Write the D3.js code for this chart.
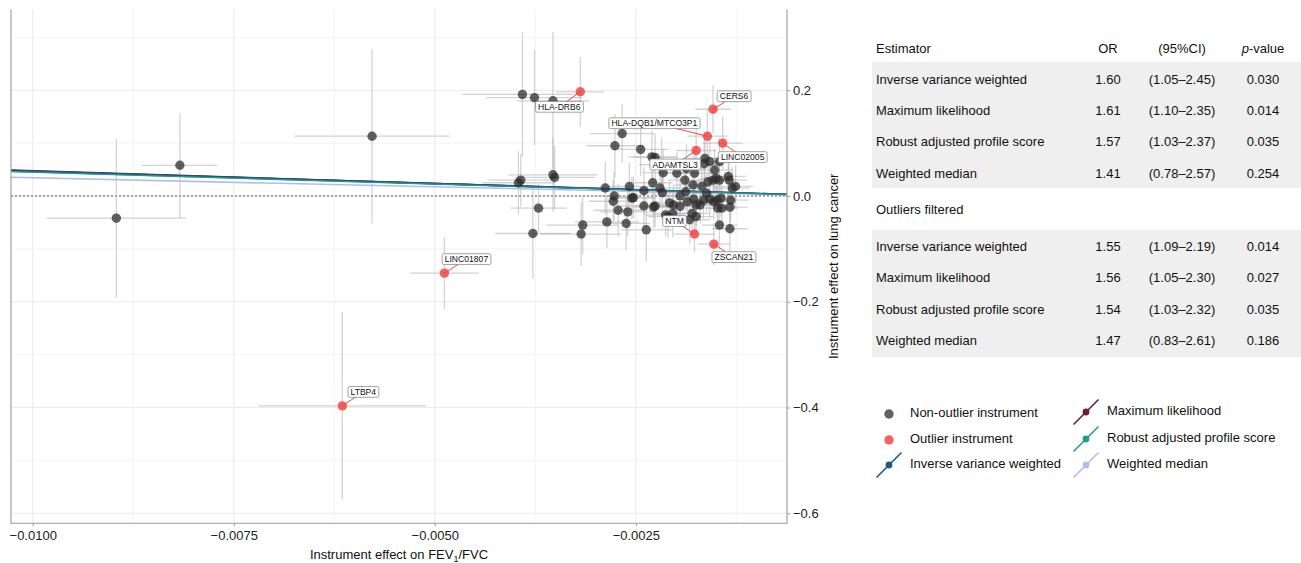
<!DOCTYPE html>
<html>
<head>
<meta charset="utf-8">
<script src="https://cdnjs.cloudflare.com/ajax/libs/d3/7.8.5/d3.min.js"></script>
<style>
  body { margin: 0; background: #fff; }
  svg { font-family: "Liberation Sans", Arial, Helvetica, sans-serif; }
</style>
</head>
<body>
<script>
// non-outlier instruments: effect on FEV1/FVC, effect on lung cancer, and their SEs
const bx = [-0.00896, -0.00817, -0.00578, -0.00391, -0.00376, -0.00353, -0.00396, -0.00393, -0.00353, -0.00351,
            -0.00371, -0.00378, -0.00318, -0.00316, -0.00286, -0.00288, -0.00277, -0.00276, -0.00267, -0.00272,
            -0.00260, -0.00278, -0.00244, -0.00258, -0.00253, -0.00240, -0.00237, -0.00230, -0.00226, -0.00229,
            -0.00226, -0.00228, -0.00218, -0.00216, -0.00213, -0.00217, -0.00208, -0.00204, -0.00199, -0.00195,
            -0.00195, -0.00189, -0.00187, -0.00188, -0.00186, -0.00183, -0.00180, -0.00179, -0.00177, -0.00178,
            -0.00175, -0.00168, -0.00165, -0.00164, -0.00166, -0.00162, -0.00160, -0.00158, -0.00154, -0.00152,
            -0.00153, -0.00150, -0.00149, -0.00148, -0.00146, -0.00146, -0.00146, -0.00144, -0.00143, -0.00135,
            -0.00134, -0.00132, -0.00133, -0.00130, -0.00133, -0.00170, -0.00262, -0.00255, -0.00210, -0.00203,
            -0.00175, -0.00158, -0.00126, -0.00220, -0.00240];
const by = [-0.042, 0.058, 0.113, 0.192, 0.186, 0.180, 0.025, 0.030, 0.040, 0.035,
            -0.023, -0.071, -0.072, -0.055, -0.049, 0.015, 0.000, 0.095, 0.118, -0.027,
            -0.030, -0.010, 0.088, 0.018, -0.003, -0.019, -0.064, 0.074, 0.073, 0.025,
            -0.019, -0.021, 0.059, 0.044, -0.036, 0.006, -0.013, -0.033, 0.043, 0.000,
            -0.020, 0.030, 0.052, 0.008, -0.011, -0.045, -0.033, 0.021, 0.043, -0.006,
            -0.017, 0.018, 0.061, 0.071, -0.008, 0.005, 0.027, -0.006, 0.030, 0.049,
            -0.011, 0.033, -0.008, -0.023, 0.065, -0.055, 0.030, -0.004, -0.023, 0.037,
            0.030, -0.008, -0.021, 0.015, -0.062, -0.017, -0.052, -0.004, -0.039, -0.017,
            -0.039, 0.065, 0.018, 0.015, 0.010];
const sx = [0.00087, 0.00047, 0.00097, 0.00075, 0.00060, 0.00045, 0.00045, 0.00040, 0.00055, 0.00050,
            0.00035, 0.00047, 0.00050, 0.00045, 0.00040, 0.00035, 0.00030, 0.00035, 0.00040, 0.00030,
            0.00035, 0.00030, 0.00035, 0.00030, 0.00028, 0.00030, 0.00032, 0.00030, 0.00028, 0.00025,
            0.00025, 0.00025, 0.00028, 0.00025, 0.00025, 0.00025, 0.00025, 0.00025, 0.00022, 0.00022,
            0.00022, 0.00022, 0.00025, 0.00022, 0.00022, 0.00025, 0.00022, 0.00022, 0.00022, 0.00020,
            0.00022, 0.00020, 0.00022, 0.00025, 0.00020, 0.00020, 0.00020, 0.00020, 0.00020, 0.00022,
            0.00020, 0.00020, 0.00020, 0.00020, 0.00022, 0.00022, 0.00020, 0.00020, 0.00020, 0.00022,
            0.00022, 0.00022, 0.00022, 0.00022, 0.00022, 0.00020, 0.00030, 0.00028, 0.00025, 0.00025,
            0.00022, 0.00022, 0.00022, 0.00025, 0.00030];
const sy = [0.150, 0.099, 0.165, 0.118, 0.090, 0.130, 0.060, 0.050, 0.070, 0.060,
            0.045, 0.085, 0.060, 0.055, 0.050, 0.050, 0.045, 0.060, 0.055, 0.050,
            0.045, 0.040, 0.050, 0.045, 0.040, 0.045, 0.060, 0.050, 0.045, 0.040,
            0.040, 0.040, 0.050, 0.045, 0.040, 0.040, 0.040, 0.045, 0.040, 0.035,
            0.040, 0.040, 0.045, 0.035, 0.040, 0.045, 0.040, 0.040, 0.040, 0.035,
            0.040, 0.035, 0.045, 0.050, 0.035, 0.035, 0.035, 0.035, 0.035, 0.040,
            0.035, 0.035, 0.035, 0.040, 0.045, 0.045, 0.035, 0.035, 0.040, 0.040,
            0.040, 0.040, 0.040, 0.040, 0.045, 0.035, 0.050, 0.040, 0.040, 0.040,
            0.040, 0.045, 0.040, 0.040, 0.045];

// outlier instruments
const outGene = ["HLA-DRB6", "CERS6", "HLA-DQB1/MTCO3P1", "LINC02005", "ADAMTSL3", "NTM", "ZSCAN21", "LINC01807", "LTBP4"];
const outBx = [-0.00319, -0.00154, -0.00161, -0.00142, -0.00175, -0.00177, -0.00153, -0.00488, -0.00615];
const outBy = [0.197, 0.164, 0.113, 0.100, 0.086, -0.072, -0.091, -0.146, -0.397];
const outSx = [0.00030, 0.00022, 0.00025, 0.00025, 0.00025, 0.00025, 0.00020, 0.00043, 0.00104];
const outSy = [0.066, 0.045, 0.050, 0.050, 0.050, 0.035, 0.040, 0.068, 0.177];

// MR estimators
const estimators = ["Inverse variance weighted", "Maximum likelihood", "Robust adjusted profile score", "Weighted median"];
const lineSlope = [-4.70, -4.76, -4.51, -3.44];
const orAll = ["1.60", "1.61", "1.57", "1.41"];
const ciAll = ["(1.05–2.45)", "(1.10–2.35)", "(1.03–2.37)", "(0.78–2.57)"];
const pAll = ["0.030", "0.014", "0.035", "0.254"];
const orFilt = ["1.55", "1.56", "1.54", "1.47"];
const ciFilt = ["(1.09–2.19)", "(1.05–2.30)", "(1.03–2.32)", "(0.83–2.61)"];
const pFilt = ["0.014", "0.027", "0.035", "0.186"];

const xTicks = [-0.01, -0.0075, -0.005, -0.0025];
const xMinor = [-0.00875, -0.00625, -0.00375, -0.00125];
const yTicks = [0.2, 0, -0.2, -0.4, -0.6];
const yMinor = [0.3, 0.1, -0.1, -0.3, -0.5];

const lineColor = ["#1d5888", "#6a1c3c", "#1f9e8e", "#b3bce8"];
// label nudges (px) from point to label centre
const nudge = {
  "HLA-DRB6": [-21, 15], "CERS6": [21, -13], "HLA-DQB1/MTCO3P1": [-53, -13], "LINC02005": [20, 14],
  "ADAMTSL3": [-21, 14], "NTM": [-20, -13], "ZSCAN21": [20, 13], "LINC01807": [22, -14], "LTBP4": [21, -14]
};

const W = 1301, H = 563;
const svg = d3.select("body").append("svg").attr("width", W).attr("height", H);

const x = d3.scaleLinear().domain([-0.01027, -0.00062]).range([11, 787]);
const y = d3.scaleLinear().domain([-0.619, 0.353]).range([523.3, 9.3]);
const [x0, x1] = x.range();
const [yb, yt] = y.range();

// grid
const grid = svg.append("g");
grid.selectAll(".vmin").data(xMinor).enter().append("line")
  .attr("x1", d => x(d)).attr("x2", d => x(d)).attr("y1", yt).attr("y2", yb)
  .attr("stroke", "#f3f3f3").attr("stroke-width", 1);
grid.selectAll(".hmin").data(yMinor).enter().append("line")
  .attr("y1", d => y(d)).attr("y2", d => y(d)).attr("x1", x0).attr("x2", x1)
  .attr("stroke", "#f3f3f3").attr("stroke-width", 1);
grid.selectAll(".vmaj").data(xTicks).enter().append("line")
  .attr("x1", d => x(d)).attr("x2", d => x(d)).attr("y1", yt).attr("y2", yb)
  .attr("stroke", "#ebebeb").attr("stroke-width", 1.1);
grid.selectAll(".hmaj").data(yTicks).enter().append("line")
  .attr("y1", d => y(d)).attr("y2", d => y(d)).attr("x1", x0).attr("x2", x1)
  .attr("stroke", "#ebebeb").attr("stroke-width", 1.1);

// zero line
svg.append("line").attr("x1", x0).attr("x2", x1).attr("y1", y(0)).attr("y2", y(0))
  .attr("stroke", "#555").attr("stroke-width", 1).attr("stroke-dasharray", "2,2");

const pts = bx.map((v, i) => ({ bx: v, by: by[i], sx: sx[i], sy: sy[i] }));
const outs = outBx.map((v, i) => ({ gene: outGene[i], bx: v, by: outBy[i], sx: outSx[i], sy: outSy[i] }));
const all = pts.concat(outs);

// error bars
const eb = svg.append("g").attr("stroke", "#b5b5b5").attr("stroke-width", 1.3).attr("stroke-opacity", 0.6);
eb.selectAll(".eh").data(all).enter().append("line")
  .attr("x1", d => x(Math.max(d.bx - d.sx, -0.01027))).attr("x2", d => x(Math.min(d.bx + d.sx, -0.00062)))
  .attr("y1", d => y(d.by)).attr("y2", d => y(d.by));
eb.selectAll(".ev").data(all).enter().append("line")
  .attr("x1", d => x(d.bx)).attr("x2", d => x(d.bx))
  .attr("y1", d => y(Math.min(d.by + d.sy, 0.353))).attr("y2", d => y(Math.max(d.by - d.sy, -0.619)));

// regression lines (through origin)
const dom = x.domain();
estimators.forEach((e, i) => {
  svg.append("line")
    .attr("x1", x(dom[0])).attr("y1", y(lineSlope[i] * dom[0]))
    .attr("x2", x(dom[1])).attr("y2", y(lineSlope[i] * dom[1]))
    .attr("stroke", lineColor[i]).attr("stroke-width", 1.6);
});
// order so that IVW and robust sit on top like the original
svg.append("line")
  .attr("x1", x(dom[0])).attr("y1", y(lineSlope[0] * dom[0]))
  .attr("x2", x(dom[1])).attr("y2", y(lineSlope[0] * dom[1]))
  .attr("stroke", lineColor[0]).attr("stroke-width", 1.6);
svg.append("line")
  .attr("x1", x(dom[0])).attr("y1", y(lineSlope[2] * dom[0]))
  .attr("x2", x(dom[1])).attr("y2", y(lineSlope[2] * dom[1]))
  .attr("stroke", lineColor[2]).attr("stroke-width", 1.1);

// points
svg.append("g").selectAll("circle").data(pts).enter().append("circle")
  .attr("cx", d => x(d.bx)).attr("cy", d => y(d.by)).attr("r", 4.7)
  .attr("fill", "#2b2b2b").attr("fill-opacity", 0.74);

// label segments, outlier points, labels
const lab = svg.append("g");
lab.selectAll(".seg").data(outs).enter().append("line")
  .attr("x1", d => x(d.bx)).attr("y1", d => y(d.by))
  .attr("x2", d => x(d.bx) + nudge[d.gene][0]).attr("y2", d => y(d.by) + nudge[d.gene][1])
  .attr("stroke", "#ef4747").attr("stroke-width", 1);
svg.append("g").selectAll("circle").data(outs).enter().append("circle")
  .attr("cx", d => x(d.bx)).attr("cy", d => y(d.by)).attr("r", 4.7)
  .attr("fill", "#f24545").attr("fill-opacity", 0.85);

const lg = svg.append("g").selectAll("g").data(outs).enter().append("g")
  .attr("transform", d => `translate(${x(d.bx) + nudge[d.gene][0]},${y(d.by) + nudge[d.gene][1]})`);
lg.append("text").text(d => d.gene).attr("text-anchor", "middle").attr("dy", "0.36em")
  .attr("font-size", 8.6).attr("fill", "#111");
lg.each(function () {
  const g = d3.select(this);
  const bb = g.select("text").node().getBBox();
  g.insert("rect", "text")
    .attr("x", bb.x - 2.5).attr("y", -5.4).attr("width", bb.width + 5).attr("height", 10.8)
    .attr("rx", 1.5).attr("fill", "#fff").attr("stroke", "#8c8c8c").attr("stroke-width", 0.8);
});

// axis frame
const frame = svg.append("g").attr("stroke", "#9a9a9a").attr("stroke-width", 1.1).attr("fill", "none");
frame.append("path").attr("d", `M${x0},${yt}V${yb}H${x1}V${yt}`);

// x axis
const gx = svg.append("g").attr("transform", `translate(0,${yb})`)
  .call(d3.axisBottom(x).tickValues(xTicks).tickFormat(d3.format(".4f")).tickSize(3).tickPadding(4));
gx.select(".domain").remove();
gx.selectAll("line").attr("stroke", "#9a9a9a");
gx.selectAll("text").attr("font-size", 13).attr("fill", "#222").attr("font-family", null);

// y axis on the right
const gy = svg.append("g").attr("transform", `translate(${x1},0)`)
  .call(d3.axisRight(y).tickValues(yTicks).tickFormat(d3.format(".1f")).tickSize(3).tickPadding(3));
gy.select(".domain").remove();
gy.selectAll("line").attr("stroke", "#9a9a9a");
gy.selectAll("text").attr("font-size", 13).attr("fill", "#222").attr("font-family", null);

// axis titles
const xt = svg.append("text").attr("x", (x0 + x1) / 2).attr("y", 559).attr("text-anchor", "middle")
  .attr("font-size", 13).attr("fill", "#111");
xt.append("tspan").text("Instrument effect on FEV");
xt.append("tspan").text("1").attr("font-size", 9).attr("dy", 3);
xt.append("tspan").text("/FVC").attr("dy", -3);

svg.append("text").attr("transform", `translate(838,${(yt + yb) / 2}) rotate(-90)`)
  .attr("text-anchor", "middle").attr("font-size", 13).attr("fill", "#111")
  .text("Instrument effect on lung cancer");

// table
const tb = svg.append("g").attr("font-size", 13).attr("fill", "#111");
const colOR = 1108, colCI = 1182, colP = 1263, colE = 876;
tb.append("rect").attr("x", 872).attr("y", 62).attr("width", W - 872).attr("height", 126).attr("fill", "#efefef");
tb.append("rect").attr("x", 872).attr("y", 230).attr("width", W - 872).attr("height", 127).attr("fill", "#efefef");

const head = tb.append("g").attr("transform", "translate(0,48)");
head.append("text").attr("x", colE).attr("dy", "0.35em").text("Estimator");
head.append("text").attr("x", colOR).attr("dy", "0.35em").attr("text-anchor", "middle").text("OR");
head.append("text").attr("x", colCI).attr("dy", "0.35em").attr("text-anchor", "middle").text("(95%CI)");
const ph = head.append("text").attr("x", colP).attr("dy", "0.35em").attr("text-anchor", "middle");
ph.append("tspan").attr("font-style", "italic").text("p");
ph.append("tspan").text("-value");

function rows(ys, ors, cis, ps) {
  estimators.forEach((e, i) => {
    const r = tb.append("g").attr("transform", `translate(0,${ys[i]})`);
    r.append("text").attr("x", colE).attr("dy", "0.35em").text(e);
    r.append("text").attr("x", colOR).attr("dy", "0.35em").attr("text-anchor", "middle").text(ors[i]);
    r.append("text").attr("x", colCI).attr("dy", "0.35em").attr("text-anchor", "middle").text(cis[i]);
    r.append("text").attr("x", colP).attr("dy", "0.35em").attr("text-anchor", "middle").text(ps[i]);
  });
}
rows([79.3, 110.3, 141.3, 173.3], orAll, ciAll, pAll);
tb.append("text").attr("x", colE).attr("y", 209.5).attr("dy", "0.35em").text("Outliers filtered");
rows([246.5, 277, 309, 340.5], orFilt, ciFilt, pFilt);

// legend
const leg = svg.append("g").attr("font-size", 13).attr("fill", "#111");
const legL = [
  { label: "Non-outlier instrument", type: "dot", color: "#2b2b2b", op: 0.74, cx: 889, cy: 414 },
  { label: "Outlier instrument", type: "dot", color: "#f24545", op: 0.85, cx: 889, cy: 440 },
  { label: estimators[0], type: "line", color: lineColor[0], op: 1, cx: 889, cy: 465 },
  { label: estimators[1], type: "line", color: lineColor[1], op: 1, cx: 1086, cy: 412 },
  { label: estimators[2], type: "line", color: lineColor[2], op: 1, cx: 1086, cy: 439 },
  { label: estimators[3], type: "line", color: lineColor[3], op: 1, cx: 1086, cy: 465 }
];
legL.forEach(d => {
  if (d.type === "line") {
    leg.append("line").attr("x1", d.cx - 12.5).attr("y1", d.cy + 12.5).attr("x2", d.cx + 12.5).attr("y2", d.cy - 12.5)
      .attr("stroke", d.color).attr("stroke-width", 1.6);
    leg.append("circle").attr("cx", d.cx).attr("cy", d.cy).attr("r", 3.4).attr("fill", d.color);
  } else {
    leg.append("circle").attr("cx", d.cx).attr("cy", d.cy).attr("r", 4.7).attr("fill", d.color).attr("fill-opacity", d.op);
  }
  leg.append("text").attr("x", d.cx + 21).attr("y", d.cy - 2).attr("dy", "0.35em").text(d.label);
});
</script>
</body>
</html>
